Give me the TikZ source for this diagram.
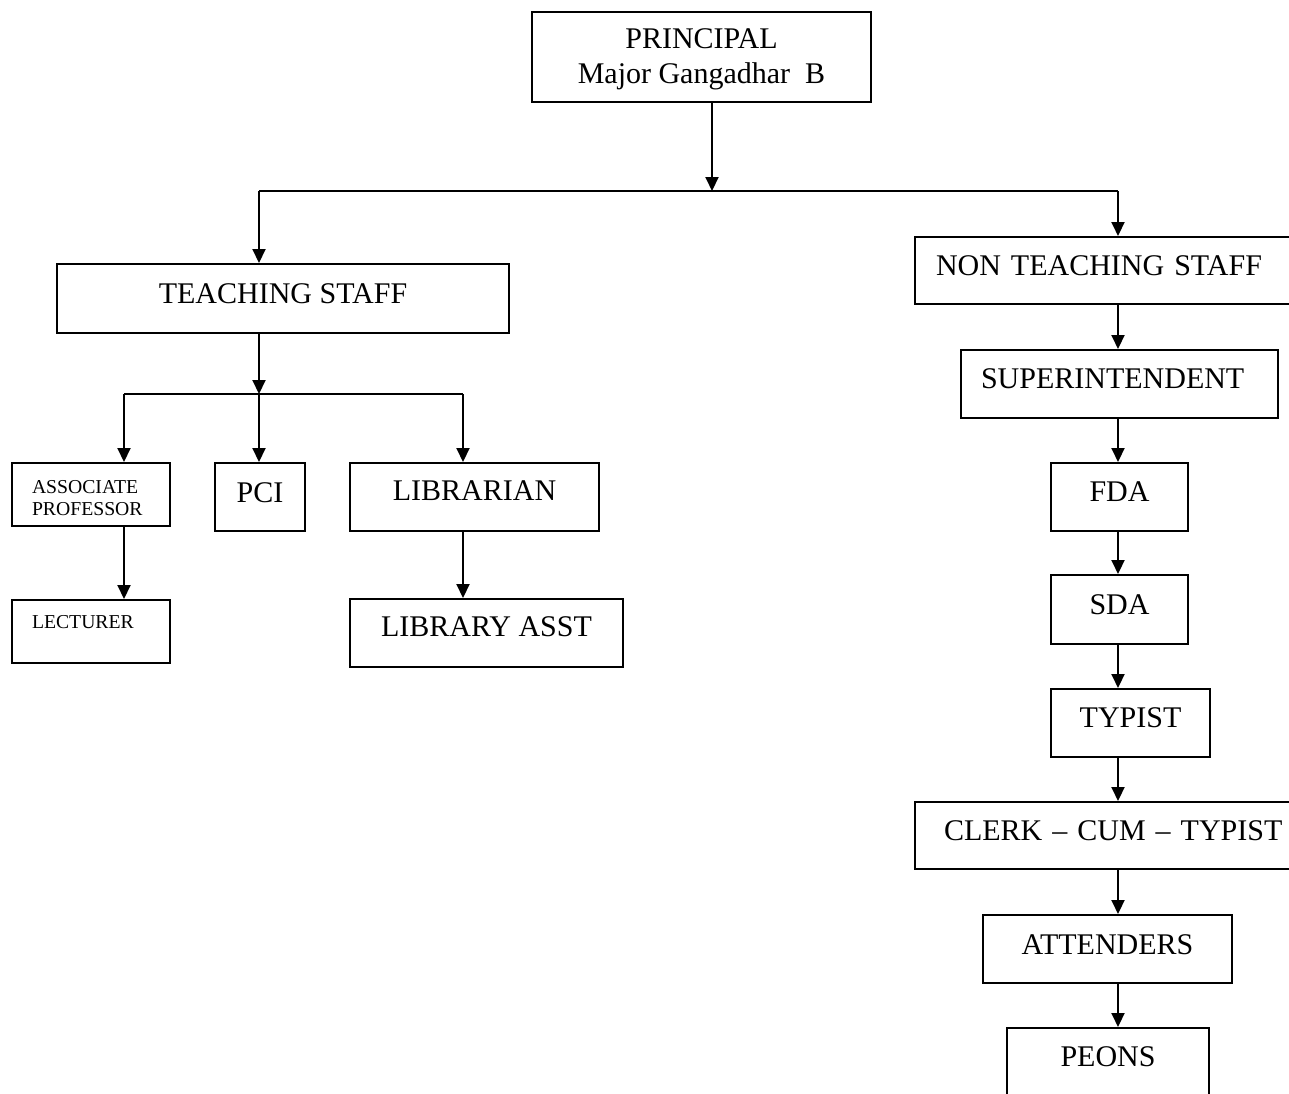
\documentclass[tikz,border=0pt]{standalone}
\usepackage{fontspec}
\setmainfont{Liberation Serif}
\usetikzlibrary{arrows.meta}
\begin{document}
\begin{tikzpicture}[x=1pt,y=-1pt,
  big/.style={font=\fontsize{30}{35}\selectfont},
  small/.style={font=\fontsize{19.7}{22}\selectfont},
  box/.style={draw, line width=2pt, inner sep=0pt, anchor=north west},
  arr/.style={line width=2pt, -{Triangle[length=14pt,width=13pt]}},
  ln/.style={line width=2pt}]
\useasboundingbox (0,0) rectangle (1289,1093);

% boxes
\node[box,big,align=center,minimum width=339pt,text height=71pt,text depth=19pt] (principal) at (531,11) {PRINCIPAL\\Major Gangadhar\ \ B};
\node[box,big,minimum width=452pt,text height=39pt,text depth=30pt] (ts) at (56,263) {TEACHING STAFF};
\node[box,big,align=left,text width=360pt,inner xsep=21pt,text height=38pt,text depth=29pt] (nts) at (914,236) {NON TEACHING STAFF};
\node[box,big,align=left,text width=277pt,inner xsep=20pt,text height=38pt,text depth=30pt] (sup) at (960,349) {SUPERINTENDENT};
\node[box,big,minimum width=137pt,text height=38pt,text depth=30pt] (fda) at (1050,462) {FDA};
\node[box,big,minimum width=137pt,text height=39pt,text depth=30pt] (sda) at (1050,574) {SDA};
\node[box,big,minimum width=159pt,text height=38pt,text depth=30pt] (typist) at (1050,688) {TYPIST};
\node[box,big,align=left,text width=360pt,inner xsep=29pt,text height=38pt,text depth=29pt] (clerk) at (914,801) {CLERK -- CUM -- TYPIST};
\node[box,big,minimum width=249pt,text height=39pt,text depth=29pt] (att) at (982,914) {ATTENDERS};
\node[box,big,minimum width=202pt,text height=38pt,text depth=40pt] (peons) at (1006,1027) {PEONS};

\node[box,small,align=left,text width=118pt,inner xsep=20pt,text height=30pt,text depth=33pt] (assoc) at (11,462) {ASSOCIATE\\PROFESSOR};
\node[box,big,minimum width=90pt,text height=39pt,text depth=29pt] (pci) at (214,462) {PCI};
\node[box,big,minimum width=249pt,text height=37pt,text depth=31pt] (lib) at (349,462) {LIBRARIAN};
\node[box,small,align=left,text width=118pt,inner xsep=20pt,text height=28pt,text depth=35pt] (lect) at (11,599) {LECTURER};
\node[box,big,minimum width=273pt,text height=37pt,text depth=31pt] (libasst) at (349,598) {LIBRARY ASST};

% junction coordinates
\coordinate (j0) at (712,191);
\coordinate (jl) at (259,191);
\coordinate (jr) at (1118,191);
\coordinate (k0) at (259,394);
\coordinate (kl) at (124,394);
\coordinate (kr) at (463,394);

% top level
\draw[arr] (principal.south -| j0) -- (j0);
\draw[ln] (jl) -- (jr);
\draw[arr] (jl) -- (ts.north -| jl);
\draw[arr] (jr) -- (nts.north -| jr);

% teaching staff branch
\draw[arr] (ts.south -| k0) -- (k0);
\draw[ln] (kl) -- (kr);
\draw[arr] (kl) -- (assoc.north -| kl);
\draw[arr] (k0) -- (pci.north -| k0);
\draw[arr] (kr) -- (lib.north -| kr);
\draw[arr] (assoc.south -| kl) -- (lect.north -| kl);
\draw[arr] (lib.south -| kr) -- (libasst.north -| kr);

% non teaching chain
\draw[arr] (nts.south -| jr) -- (sup.north -| jr);
\draw[arr] (sup.south -| jr) -- (fda.north -| jr);
\draw[arr] (fda.south -| jr) -- (sda.north -| jr);
\draw[arr] (sda.south -| jr) -- (typist.north -| jr);
\draw[arr] (typist.south -| jr) -- (clerk.north -| jr);
\draw[arr] (clerk.south -| jr) -- (att.north -| jr);
\draw[arr] (att.south -| jr) -- (peons.north -| jr);
\end{tikzpicture}
\end{document}
